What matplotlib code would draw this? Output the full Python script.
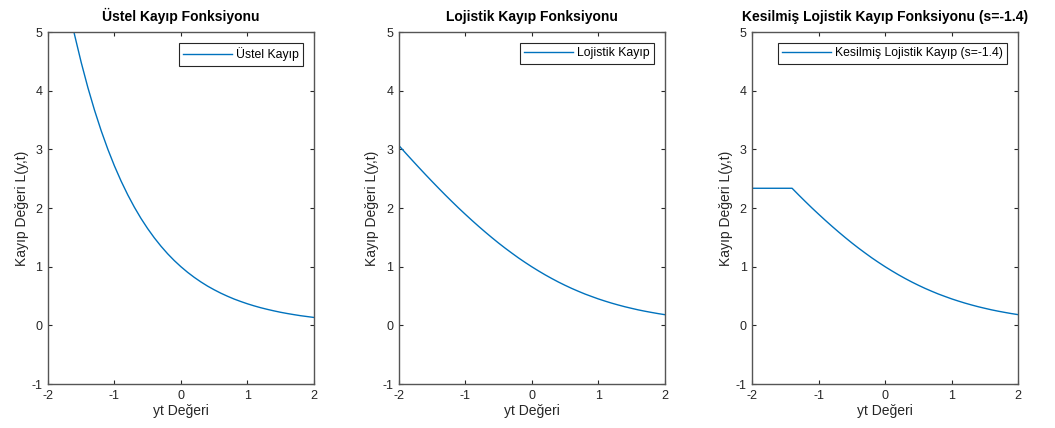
import matplotlib.pyplot as plt

plt.rcParams['font.family'] = ['Liberation Sans', 'DejaVu Sans']
plt.rcParams['axes.unicode_minus'] = False

# yt values sampled every 0.1
yt = [-2.0, -1.9, -1.8, -1.7, -1.6, -1.5, -1.4, -1.3, -1.2, -1.1, -1.0,
      -0.9, -0.8, -0.7, -0.6, -0.5, -0.4, -0.3, -0.2, -0.1, 0.0,
      0.1, 0.2, 0.3, 0.4, 0.5, 0.6, 0.7, 0.8, 0.9, 1.0,
      1.1, 1.2, 1.3, 1.4, 1.5, 1.6, 1.7, 1.8, 1.9, 2.0]

ustel = [7.389, 6.686, 6.050, 5.474, 4.953, 4.482, 4.055, 3.669, 3.320, 3.004, 2.718,
         2.460, 2.226, 2.014, 1.822, 1.649, 1.492, 1.350, 1.221, 1.105, 1.000,
         0.905, 0.819, 0.741, 0.670, 0.607, 0.549, 0.497, 0.449, 0.407, 0.368,
         0.333, 0.301, 0.273, 0.247, 0.223, 0.202, 0.183, 0.165, 0.150, 0.135]

lojistik = [3.069, 2.942, 2.818, 2.695, 2.574, 2.455, 2.338, 2.223, 2.111, 2.001, 1.895,
            1.791, 1.690, 1.592, 1.497, 1.405, 1.317, 1.233, 1.151, 1.074, 1.000,
            0.930, 0.863, 0.800, 0.740, 0.684, 0.631, 0.582, 0.535, 0.493, 0.452,
            0.415, 0.380, 0.348, 0.318, 0.291, 0.265, 0.242, 0.221, 0.201, 0.183]

kesilmis = [2.338, 2.338, 2.338, 2.338, 2.338, 2.338, 2.338, 2.223, 2.111, 2.001, 1.895,
            1.791, 1.690, 1.592, 1.497, 1.405, 1.317, 1.233, 1.151, 1.074, 1.000,
            0.930, 0.863, 0.800, 0.740, 0.684, 0.631, 0.582, 0.535, 0.493, 0.452,
            0.415, 0.380, 0.348, 0.318, 0.291, 0.265, 0.242, 0.221, 0.201, 0.183]

titles = ["Üstel Kayıp Fonksiyonu", "Lojistik Kayıp Fonksiyonu",
          "Kesilmiş Lojistik Kayıp Fonksiyonu (s=-1.4)"]
legends = ["Üstel Kayıp", "Lojistik Kayıp", "Kesilmiş Lojistik Kayıp (s=-1.4)"]
series = [ustel, lojistik, kesilmis]

fig = plt.figure(figsize=(10.55, 4.28), dpi=100)
lefts = [0.0455, 0.378, 0.713]
axcol = "#262626"

for i in range(3):
    ax = fig.add_axes([lefts[i], 0.1028, 0.252, 0.822])
    ax.plot(yt, series[i], color="#0072BD", lw=1.0, label=legends[i])
    ax.set_xlim(-2, 2)
    ax.set_ylim(-1, 5)
    ax.set_xticks([-2, -1, 0, 1, 2])
    ax.set_yticks([-1, 0, 1, 2, 3, 4, 5])
    ax.tick_params(direction="in", top=True, right=True, length=3, width=0.8,
                   labelsize=9, colors=axcol, pad=4)
    for s in ax.spines.values():
        s.set_color("#555555")
        s.set_linewidth(1.0)
    ax.set_title(titles[i], fontsize=10, fontweight="bold", color="black", pad=8)
    ax.set_xlabel("yt Değeri", fontsize=10, color=axcol, labelpad=2)
    ax.set_ylabel("Kayıp Değeri L(y,t)", fontsize=10, color=axcol, labelpad=2)
    leg = ax.legend(loc="upper right", fontsize=8.8, fancybox=False, framealpha=1,
                    handlelength=4.0, borderpad=0.35, handletextpad=0.3,
                    borderaxespad=0.9)
    leg.get_frame().set_edgecolor(axcol)
    leg.get_frame().set_linewidth(0.8)

plt.savefig("out.png", dpi=100)
